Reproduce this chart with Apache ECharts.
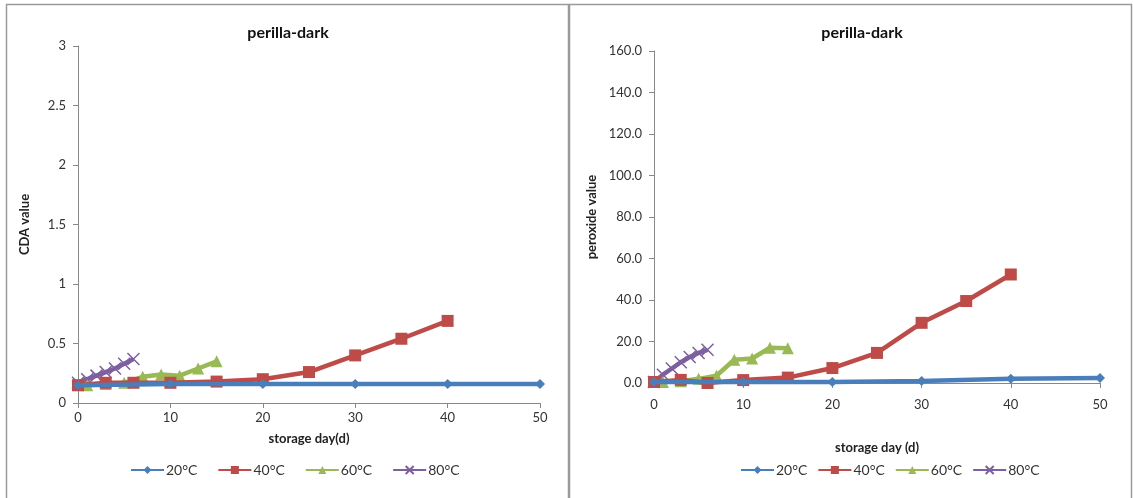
<!DOCTYPE html>
<html><head><meta charset="utf-8">
<script src="https://cdn.jsdelivr.net/npm/echarts@6/dist/echarts.min.js"></script>
<style>html,body{margin:0;padding:0;background:#fff}#c{width:1133px;height:498px}</style>
</head><body><div id="c"></div>
<script>
// ---- data ----
const seriesNames = ['20°C', '40°C', '60°C', '80°C'];
// Left chart: CDA value
const cdaDays20 = [0, 10, 20, 30, 40, 50];
const cda20 = [0.15, 0.16, 0.16, 0.16, 0.16, 0.16];
const cdaDays40 = [0, 3, 6, 10, 15, 20, 25, 30, 35, 40];
const cda40 = [0.15, 0.17, 0.17, 0.17, 0.18, 0.20, 0.26, 0.40, 0.54, 0.69];
const cdaDays60 = [0, 1, 3, 5, 7, 9, 11, 13, 15];
const cda60 = [0.15, 0.15, 0.16, 0.17, 0.22, 0.24, 0.23, 0.29, 0.35];
const cdaDays80 = [0, 1, 2, 3, 4, 5, 6];
const cda80 = [0.17, 0.20, 0.23, 0.26, 0.29, 0.33, 0.37];
// Right chart: peroxide value
const povDays20 = [0, 10, 20, 30, 40, 50];
const pov20 = [0.5, 0.5, 0.5, 1.0, 2.0, 2.4];
const povDays40 = [0, 3, 6, 10, 15, 20, 25, 30, 35, 40];
const pov40 = [0.5, 1.5, 0.0, 1.4, 2.6, 7.2, 14.5, 29.0, 39.5, 52.3];
const povDays60 = [0, 1, 3, 5, 7, 9, 11, 13, 15];
const pov60 = [0.5, 0.5, 0.8, 2.0, 3.5, 11.2, 11.8, 17.0, 16.8];
const povDays80 = [0, 1, 2, 3, 4, 5, 6];
const pov80 = [0.5, 4.0, 7.0, 10.0, 12.5, 14.5, 16.0];
// ticks
const cdaTicks = ['0', '0.5', '1', '1.5', '2', '2.5', '3'];
const xTicks = [0, 10, 20, 30, 40, 50];

const colors = ['#4A7EBB', '#BE4B48', '#98B954', '#7D60A0'];
const crossPath = 'path://M0,0L10,10M10,0L0,10';
const symbols = ['diamond', 'rect', 'triangle', crossPath];
const symSizes = [10, 12, 12, 12];
const FONT = 'Lato, "Open Sans", sans-serif';

function pairs(xs, ys) { return xs.map((x, i) => [x, ys[i]]); }
const leftData = [pairs(cdaDays20, cda20), pairs(cdaDays40, cda40), pairs(cdaDays60, cda60), pairs(cdaDays80, cda80)];
const rightData = [pairs(povDays20, pov20), pairs(povDays40, pov40), pairs(povDays60, pov60), pairs(povDays80, pov80)];

function mkSeries(dataList, idx, lw) {
  return dataList.map((d, i) => ({
    name: seriesNames[i], type: 'line', xAxisIndex: idx, yAxisIndex: idx,
    data: d, symbol: symbols[i], symbolSize: symSizes[i], showAllSymbol: true,
    lineStyle: { color: colors[i], width: lw },
    itemStyle: i === 3 ? { color: 'rgba(0,0,0,0)', borderColor: colors[i], borderWidth: 1.5 } : { color: colors[i], borderColor: colors[i], borderWidth: 0 },
    emphasis: { disabled: true }, animation: false, z: 2 + (3 - i)
  }));
}
const axisLine = { show: true, lineStyle: { color: '#888', width: 1 } };
const axisTick = { show: true, inside: false, length: 5, lineStyle: { color: '#888' } };
const labelStyle = { color: '#333', fontSize: 13, fontFamily: FONT };
const nameStyle = { color: '#222', fontSize: 13, fontWeight: 'bold', fontFamily: FONT };

const option = {
  animation: false,
  backgroundColor: '#fff',
  title: [
    { text: 'perilla-dark', left: 283, top: 20, textAlign: 'center', textStyle: { fontSize: 16, fontWeight: 'bold', color: '#111', fontFamily: FONT } },
    { text: 'perilla-dark', left: 857, top: 20, textAlign: 'center', textStyle: { fontSize: 16, fontWeight: 'bold', color: '#111', fontFamily: FONT } }
  ],
  legend: [
    { data: seriesNames, left: 125, top: 458, itemWidth: 33, itemHeight: 10, itemGap: 20, textStyle: { fontSize: 14, color: '#333', fontFamily: FONT, padding: [0, 0, 0, -3] }, selectedMode: false },
    { data: seriesNames.map(n => ({ name: n })), left: 735, top: 458, itemWidth: 33, itemHeight: 10, itemGap: 10, textStyle: { fontSize: 14, color: '#333', fontFamily: FONT, padding: [0, 0, 0, -3] }, selectedMode: false }
  ],
  grid: [
    { left: 78, top: 46, width: 462, height: 357 },
    { left: 654, top: 51, width: 446, height: 332 }
  ],
  xAxis: [
    { gridIndex: 0, type: 'value', min: 0, max: 50, interval: 10, axisLine, axisTick, splitLine: { show: false },
      axisLabel: Object.assign({ margin: 8, formatter: v => xTicks.includes(v) ? String(v) : '' }, labelStyle),
      name: 'storage day(d)', nameLocation: 'middle', nameGap: 29, nameTextStyle: nameStyle },
    { gridIndex: 1, type: 'value', min: 0, max: 50, interval: 10, axisLine, axisTick, splitLine: { show: false },
      axisLabel: Object.assign({ margin: 15, formatter: v => xTicks.includes(v) ? String(v) : '' }, labelStyle),
      name: 'storage day (d)', nameLocation: 'middle', nameGap: 58, nameTextStyle: nameStyle }
  ],
  yAxis: [
    { gridIndex: 0, type: 'value', min: 0, max: 3, interval: 0.5, axisLine, axisTick, splitLine: { show: false },
      axisLabel: Object.assign({ margin: 12, formatter: v => cdaTicks[Math.round(v * 2)] }, labelStyle),
      name: 'CDA value', nameLocation: 'middle', nameGap: 47, nameTextStyle: nameStyle },
    { gridIndex: 1, type: 'value', min: 0, max: 160, interval: 20, axisLine, axisTick, splitLine: { show: false },
      axisLabel: Object.assign({ margin: 12, formatter: v => v.toFixed(1) }, labelStyle),
      name: 'peroxide value', nameLocation: 'middle', nameGap: 56, nameTextStyle: nameStyle }
  ],
  graphic: [
    { type: 'rect', shape: { x: 6.5, y: 4.5, width: 562, height: 500 }, style: { fill: 'none', stroke: '#9a9a9a', lineWidth: 1.5 }, silent: true },
    { type: 'rect', shape: { x: 569.5, y: 4.5, width: 562, height: 500 }, style: { fill: 'none', stroke: '#9a9a9a', lineWidth: 1.5 }, silent: true }
  ],
  series: [...mkSeries(leftData, 0, 4.5), ...mkSeries(rightData, 1, 4.5)]
};
const chart = echarts.init(document.getElementById('c'), null, { renderer: 'canvas' });
chart.setOption(option);
</script></body></html>
